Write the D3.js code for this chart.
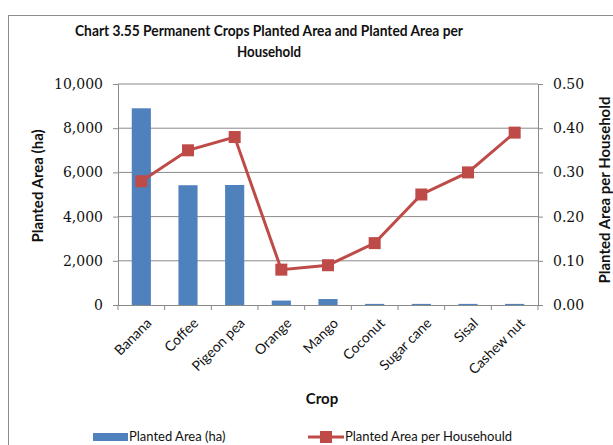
<!DOCTYPE html>
<html>
<head>
<meta charset="utf-8">
<script src="https://cdn.jsdelivr.net/npm/d3@7"></script>
<style>
  body { margin: 0; background: #fff; }
  .tick text { font-family: "DejaVu Serif", "Liberation Serif", serif; font-size: 14px; fill: #111; }
  .cat .tick text { font-family: Lato, "Open Sans", sans-serif; font-size: 14px; fill: #111; }
</style>
</head>
<body>
<div id="chart"></div>
<script>
// chart data
const crops = ["Banana", "Coffee", "Pigeon pea", "Orange", "Mango", "Coconut", "Sugar cane", "Sisal", "Cashew nut"];
const plantedArea = [8900, 5420, 5430, 200, 270, 50, 50, 50, 50];
const areaPerHousehold = [0.28, 0.35, 0.38, 0.08, 0.09, 0.14, 0.25, 0.30, 0.39];
const leftTicks = [0, 2000, 4000, 6000, 8000, 10000];
const rightTicks = [0, 0.1, 0.2, 0.3, 0.4, 0.5];

const W = 613, H = 445;
const margin = { top: 84, right: 75, bottom: 140, left: 118 };
const width = W - margin.left - margin.right;
const height = H - margin.top - margin.bottom;
const font = "Lato, 'Open Sans', sans-serif";

const svg = d3.select("#chart").append("svg")
    .attr("width", W)
    .attr("height", H);

// outer chart border
svg.append("rect")
    .attr("x", 8.5).attr("y", 15.5)
    .attr("width", 640).attr("height", 500)
    .attr("fill", "none")
    .attr("stroke", "#8c8c8c");

const g = svg.append("g")
    .attr("transform", "translate(" + margin.left + "," + margin.top + ")");

const x = d3.scaleBand().domain(crops).range([0, width]);
const yL = d3.scaleLinear().domain([0, 10000]).range([height, 0]);
const yR = d3.scaleLinear().domain([0, 0.5]).range([height, 0]);

// gridlines
g.selectAll(".grid").data(leftTicks.slice(1)).enter().append("line")
    .attr("x1", 0).attr("x2", width)
    .attr("y1", d => yL(d)).attr("y2", d => yL(d))
    .attr("stroke", "#8a8a8a").attr("stroke-width", 1);

// bars
const barW = x.bandwidth() * 0.41;
g.selectAll(".bar").data(plantedArea).enter().append("rect")
    .attr("x", (d, i) => x(crops[i]) + x.bandwidth() / 2 - barW / 2)
    .attr("y", d => yL(d))
    .attr("width", barW)
    .attr("height", d => height - yL(d))
    .attr("fill", "#4f81bd");

// left axis
const axL = g.append("g")
    .call(d3.axisLeft(yL).tickValues(leftTicks).tickFormat(d3.format(",")).tickSize(5).tickPadding(10));
axL.select(".domain").attr("stroke", "#8a8a8a");
axL.selectAll(".tick line").attr("stroke", "#8a8a8a");

// right axis
const axR = g.append("g")
    .attr("transform", "translate(" + width + ",0)")
    .call(d3.axisRight(yR).tickValues(rightTicks).tickFormat(d3.format(".2f")).tickSize(5).tickPadding(10));
axR.select(".domain").attr("stroke", "#8a8a8a");
axR.selectAll(".tick line").attr("stroke", "#8a8a8a");

// bottom axis
const axB = g.append("g")
    .attr("class", "cat")
    .attr("transform", "translate(0," + height + ")")
    .call(d3.axisBottom(x).tickSize(0));
axB.select(".domain").attr("stroke", "#8a8a8a");
axB.selectAll(".tick text")
    .attr("text-anchor", "end")
    .attr("dy", 0)
    .attr("transform", "translate(9,17) rotate(-45)");
// category separator ticks
g.selectAll(".sep").data(d3.range(crops.length + 1)).enter().append("line")
    .attr("x1", i => i * x.bandwidth()).attr("x2", i => i * x.bandwidth())
    .attr("y1", height).attr("y2", height + 5)
    .attr("stroke", "#8a8a8a");

// line series
const line = d3.line()
    .x((d, i) => x(crops[i]) + x.bandwidth() / 2)
    .y(d => yR(d));
g.append("path")
    .datum(areaPerHousehold)
    .attr("d", line)
    .attr("fill", "none")
    .attr("stroke", "#be4b48")
    .attr("stroke-width", 3);
g.selectAll(".mark").data(areaPerHousehold).enter().append("rect")
    .attr("x", (d, i) => x(crops[i]) + x.bandwidth() / 2 - 6)
    .attr("y", d => yR(d) - 6)
    .attr("width", 12).attr("height", 12)
    .attr("fill", "#be4b48");

// title
const title = svg.append("text")
    .attr("text-anchor", "middle")
    .attr("font-family", font)
    .attr("font-weight", "bold")
    .attr("font-size", 15)
    .attr("fill", "#111");
title.append("tspan").attr("x", 269).attr("y", 36)
    .attr("textLength", 388).attr("lengthAdjust", "spacingAndGlyphs")
    .text("Chart 3.55 Permanent Crops Planted Area  and Planted Area per");
title.append("tspan").attr("x", 269).attr("y", 57)
    .attr("textLength", 64).attr("lengthAdjust", "spacingAndGlyphs")
    .text("Household");

// axis titles
svg.append("text")
    .attr("transform", "translate(43,186) rotate(-90)")
    .attr("text-anchor", "middle")
    .attr("font-family", font)
    .attr("font-weight", "bold").attr("font-size", 15).attr("fill", "#111")
    .text("Planted Area (ha)");

svg.append("text")
    .attr("transform", "translate(610,190) rotate(-90)")
    .attr("text-anchor", "middle")
    .attr("font-family", font)
    .attr("font-weight", "bold").attr("font-size", 15).attr("fill", "#111")
    .text("Planted Area per Household");

svg.append("text")
    .attr("x", 322).attr("y", 404)
    .attr("text-anchor", "middle")
    .attr("font-family", font)
    .attr("font-weight", "bold").attr("font-size", 15).attr("fill", "#111")
    .text("Crop");

// legend
const leg = svg.append("g").attr("font-family", font)
    .attr("font-size", 13).attr("fill", "#111");
leg.append("rect").attr("x", 93).attr("y", 433).attr("width", 35).attr("height", 8).attr("fill", "#4f81bd");
leg.append("text").attr("x", 129).attr("y", 441).text("Planted Area (ha)");
leg.append("line").attr("x1", 308).attr("x2", 344).attr("y1", 437).attr("y2", 437)
    .attr("stroke", "#be4b48").attr("stroke-width", 3);
leg.append("rect").attr("x", 320).attr("y", 431).attr("width", 12).attr("height", 12).attr("fill", "#be4b48");
leg.append("text").attr("x", 345).attr("y", 441).text("Planted Area per Househould");
</script>
</body>
</html>
